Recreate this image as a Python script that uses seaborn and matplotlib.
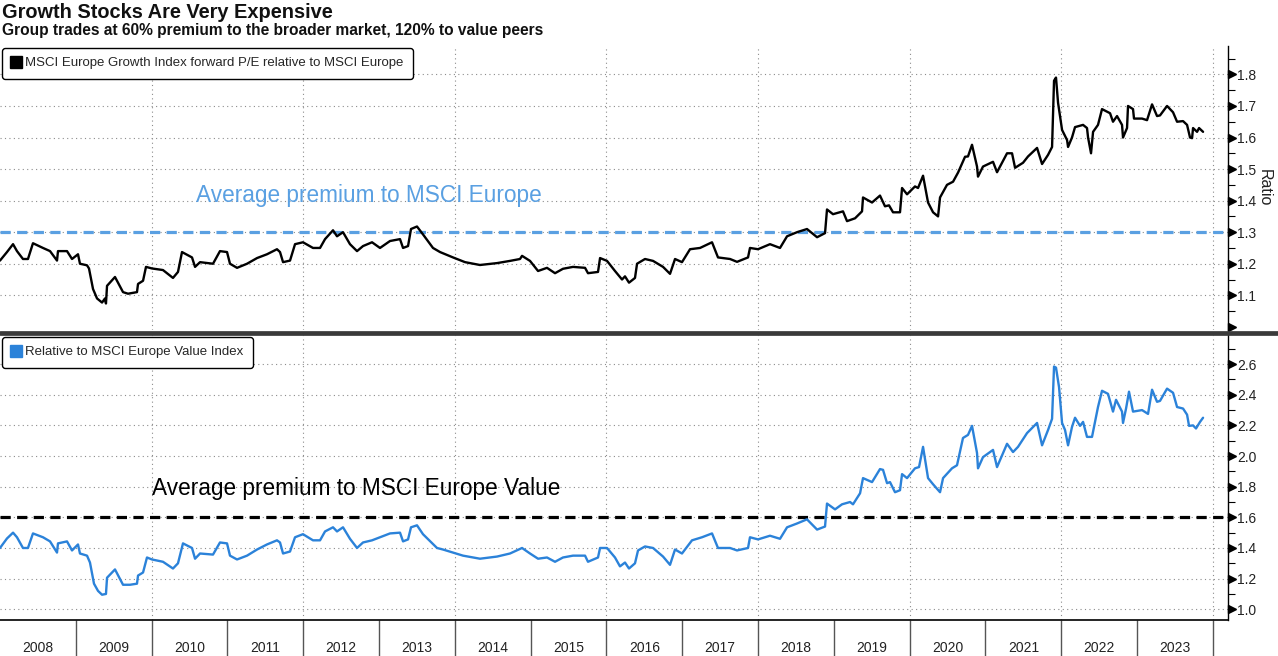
import numpy as np
import pandas as pd
import matplotlib
matplotlib.use("Agg")
import matplotlib.pyplot as plt
import matplotlib.transforms as mtransforms
from matplotlib.lines import Line2D
from matplotlib.ticker import MultipleLocator
import seaborn as sns

# ---------------- data ----------------
title = "Growth Stocks Are Very Expensive"
subtitle = "Group trades at 60% premium to the broader market, 120% to value peers"
growth_label = "MSCI Europe Growth Index forward P/E relative to MSCI Europe"
value_label = "Relative to MSCI Europe Value Index"
avg_market_text = "Average premium to MSCI Europe"
avg_value_text = "Average premium to MSCI Europe Value"
avg_market = 1.3
avg_value = 1.6

years = list(range(2008, 2024))
grid_years = [2010, 2012, 2014, 2016, 2018, 2020, 2022, 2024]
top_ticks = [1.0, 1.1, 1.2, 1.3, 1.4, 1.5, 1.6, 1.7, 1.8]
bottom_ticks = [1.0, 1.2, 1.4, 1.6, 1.8, 2.0, 2.2, 2.4, 2.6]

growth_dates = [
    2008.000, 2008.092, 2008.172, 2008.224, 2008.303, 2008.369, 2008.435, 2008.567, 2008.660, 2008.752,
    2008.765, 2008.884, 2008.950, 2009.029, 2009.055, 2009.148, 2009.174, 2009.227, 2009.280, 2009.346,
    2009.385, 2009.398, 2009.412, 2009.517, 2009.623, 2009.689, 2009.807, 2009.821, 2009.887, 2009.926,
    2010.005, 2010.150, 2010.282, 2010.348, 2010.401, 2010.533, 2010.573, 2010.639, 2010.810, 2010.902,
    2010.995, 2011.034, 2011.127, 2011.259, 2011.391, 2011.522, 2011.654, 2011.694, 2011.734, 2011.826,
    2011.892, 2011.997, 2012.129, 2012.222, 2012.288, 2012.393, 2012.446, 2012.525, 2012.617, 2012.710,
    2012.789, 2012.908, 2013.013, 2013.145, 2013.277, 2013.317, 2013.383, 2013.422, 2013.501, 2013.580,
    2013.712, 2013.805, 2013.976, 2014.135, 2014.332, 2014.557, 2014.728, 2014.860, 2014.887, 2014.992,
    2015.098, 2015.216, 2015.322, 2015.427, 2015.559, 2015.718, 2015.757, 2015.889, 2015.916, 2016.008,
    2016.113, 2016.206, 2016.245, 2016.298, 2016.377, 2016.404, 2016.509, 2016.615, 2016.747, 2016.839,
    2016.905, 2016.997, 2017.103, 2017.235, 2017.393, 2017.472, 2017.631, 2017.723, 2017.868, 2017.894,
    2018.000, 2018.158, 2018.290, 2018.383, 2018.515, 2018.646, 2018.779, 2018.884, 2018.910, 2018.989,
    2019.121, 2019.174, 2019.280, 2019.372, 2019.385, 2019.504, 2019.609, 2019.675, 2019.728, 2019.781,
    2019.873, 2019.900, 2019.966, 2020.071, 2020.111, 2020.177, 2020.243, 2020.309, 2020.375, 2020.401,
    2020.493, 2020.573, 2020.639, 2020.731, 2020.770, 2020.823, 2020.889, 2020.902, 2020.968, 2021.100,
    2021.153, 2021.285, 2021.351, 2021.391, 2021.496, 2021.562, 2021.681, 2021.747, 2021.826, 2021.879,
    2021.905, 2021.931, 2021.958, 2022.011, 2022.077, 2022.090, 2022.142, 2022.182, 2022.288, 2022.340,
    2022.354, 2022.393, 2022.420, 2022.485, 2022.538, 2022.644, 2022.683, 2022.736, 2022.802, 2022.815,
    2022.868, 2022.881, 2022.947, 2022.960, 2023.066, 2023.132, 2023.198, 2023.264, 2023.303, 2023.396,
    2023.475, 2023.528, 2023.607, 2023.660, 2023.699, 2023.726, 2023.739, 2023.792, 2023.818, 2023.871,
]
growth_ratio = [
    1.210, 1.237, 1.262, 1.240, 1.215, 1.215, 1.265, 1.250, 1.240, 1.210,
    1.240, 1.240, 1.215, 1.230, 1.200, 1.195, 1.185, 1.120, 1.090, 1.077,
    1.090, 1.074, 1.130, 1.158, 1.110, 1.105, 1.110, 1.136, 1.146, 1.190,
    1.185, 1.180, 1.155, 1.174, 1.237, 1.220, 1.190, 1.205, 1.200, 1.240,
    1.237, 1.200, 1.187, 1.200, 1.218, 1.230, 1.246, 1.237, 1.205, 1.210,
    1.262, 1.268, 1.250, 1.250, 1.278, 1.306, 1.287, 1.300, 1.262, 1.240,
    1.256, 1.268, 1.250, 1.272, 1.278, 1.250, 1.256, 1.310, 1.318, 1.293,
    1.250, 1.237, 1.220, 1.205, 1.196, 1.202, 1.209, 1.215, 1.225, 1.209,
    1.177, 1.187, 1.170, 1.184, 1.190, 1.187, 1.170, 1.174, 1.218, 1.209,
    1.177, 1.150, 1.160, 1.140, 1.155, 1.200, 1.215, 1.209, 1.190, 1.168,
    1.215, 1.205, 1.246, 1.250, 1.268, 1.220, 1.215, 1.206, 1.220, 1.250,
    1.246, 1.262, 1.250, 1.287, 1.300, 1.310, 1.284, 1.297, 1.372, 1.357,
    1.366, 1.335, 1.344, 1.366, 1.410, 1.394, 1.416, 1.382, 1.385, 1.363,
    1.363, 1.440, 1.420, 1.445, 1.440, 1.479, 1.394, 1.363, 1.350, 1.410,
    1.450, 1.460, 1.489, 1.539, 1.540, 1.577, 1.508, 1.476, 1.508, 1.523,
    1.490, 1.550, 1.550, 1.504, 1.520, 1.540, 1.567, 1.516, 1.545, 1.570,
    1.780, 1.790, 1.710, 1.624, 1.592, 1.570, 1.600, 1.633, 1.640, 1.630,
    1.600, 1.550, 1.618, 1.640, 1.690, 1.677, 1.650, 1.668, 1.640, 1.600,
    1.630, 1.700, 1.690, 1.660, 1.660, 1.655, 1.705, 1.668, 1.670, 1.700,
    1.680, 1.650, 1.652, 1.640, 1.600, 1.598, 1.630, 1.618, 1.630, 1.618,
]

value_dates = [
    2008.000, 2008.092, 2008.172, 2008.224, 2008.303, 2008.369, 2008.435, 2008.567, 2008.660, 2008.752,
    2008.765, 2008.884, 2008.950, 2009.029, 2009.055, 2009.148, 2009.187, 2009.240, 2009.293, 2009.346,
    2009.398, 2009.412, 2009.517, 2009.623, 2009.715, 2009.807, 2009.821, 2009.887, 2009.939, 2010.005,
    2010.150, 2010.282, 2010.348, 2010.414, 2010.533, 2010.573, 2010.639, 2010.810, 2010.902, 2010.995,
    2011.034, 2011.127, 2011.259, 2011.391, 2011.522, 2011.654, 2011.694, 2011.734, 2011.826, 2011.892,
    2011.997, 2012.129, 2012.222, 2012.288, 2012.393, 2012.446, 2012.525, 2012.617, 2012.710, 2012.789,
    2012.908, 2013.013, 2013.145, 2013.277, 2013.317, 2013.383, 2013.422, 2013.501, 2013.580, 2013.765,
    2013.844, 2013.976, 2014.108, 2014.332, 2014.557, 2014.728, 2014.887, 2014.992, 2015.098, 2015.216,
    2015.322, 2015.427, 2015.559, 2015.718, 2015.757, 2015.889, 2015.916, 2016.008, 2016.113, 2016.179,
    2016.245, 2016.298, 2016.377, 2016.417, 2016.509, 2016.615, 2016.747, 2016.839, 2016.905, 2016.997,
    2017.129, 2017.261, 2017.393, 2017.472, 2017.631, 2017.723, 2017.868, 2017.894, 2018.000, 2018.158,
    2018.290, 2018.383, 2018.515, 2018.646, 2018.779, 2018.884, 2018.910, 2019.016, 2019.108, 2019.214,
    2019.253, 2019.346, 2019.385, 2019.504, 2019.609, 2019.649, 2019.702, 2019.741, 2019.807, 2019.873,
    2019.900, 2019.966, 2020.071, 2020.124, 2020.177, 2020.243, 2020.309, 2020.401, 2020.441, 2020.559,
    2020.625, 2020.704, 2020.770, 2020.823, 2020.889, 2020.902, 2020.968, 2021.100, 2021.153, 2021.285,
    2021.364, 2021.430, 2021.549, 2021.681, 2021.747, 2021.826, 2021.879, 2021.905, 2021.931, 2021.971,
    2022.011, 2022.050, 2022.090, 2022.142, 2022.182, 2022.248, 2022.288, 2022.340, 2022.406, 2022.446,
    2022.485, 2022.538, 2022.617, 2022.683, 2022.723, 2022.802, 2022.815, 2022.855, 2022.894, 2022.947,
    2023.066, 2023.145, 2023.198, 2023.264, 2023.303, 2023.396, 2023.475, 2023.528, 2023.607, 2023.660,
    2023.686, 2023.739, 2023.778, 2023.831, 2023.871,
]
value_ratio = [
    1.400, 1.462, 1.500, 1.470, 1.400, 1.400, 1.495, 1.470, 1.443, 1.370,
    1.430, 1.443, 1.384, 1.423, 1.364, 1.350, 1.305, 1.167, 1.120, 1.095,
    1.100, 1.206, 1.260, 1.160, 1.160, 1.167, 1.220, 1.240, 1.338, 1.325,
    1.310, 1.266, 1.300, 1.430, 1.400, 1.330, 1.364, 1.357, 1.436, 1.430,
    1.350, 1.325, 1.350, 1.390, 1.423, 1.450, 1.436, 1.364, 1.377, 1.470,
    1.490, 1.450, 1.450, 1.508, 1.535, 1.508, 1.535, 1.460, 1.400, 1.436,
    1.450, 1.470, 1.495, 1.500, 1.443, 1.456, 1.535, 1.548, 1.490, 1.400,
    1.390, 1.370, 1.350, 1.330, 1.344, 1.364, 1.400, 1.364, 1.330, 1.338,
    1.310, 1.338, 1.350, 1.350, 1.310, 1.338, 1.400, 1.400, 1.338, 1.280,
    1.305, 1.266, 1.300, 1.384, 1.410, 1.400, 1.344, 1.290, 1.390, 1.364,
    1.450, 1.470, 1.495, 1.400, 1.400, 1.384, 1.400, 1.470, 1.456, 1.480,
    1.460, 1.535, 1.560, 1.587, 1.520, 1.540, 1.690, 1.652, 1.685, 1.700,
    1.685, 1.757, 1.856, 1.830, 1.915, 1.910, 1.823, 1.830, 1.764, 1.777,
    1.882, 1.856, 1.920, 1.928, 2.060, 1.856, 1.816, 1.764, 1.856, 1.920,
    1.940, 2.118, 2.138, 2.197, 2.020, 1.920, 1.993, 2.040, 1.928, 2.080,
    2.026, 2.060, 2.150, 2.216, 2.070, 2.170, 2.243, 2.584, 2.577, 2.450,
    2.216, 2.170, 2.070, 2.190, 2.250, 2.197, 2.223, 2.125, 2.125, 2.223,
    2.320, 2.426, 2.406, 2.290, 2.367, 2.290, 2.216, 2.310, 2.420, 2.290,
    2.300, 2.275, 2.433, 2.354, 2.360, 2.440, 2.413, 2.320, 2.310, 2.270,
    2.197, 2.200, 2.180, 2.223, 2.250,
]

# ---------------- styling ----------------
sns.set_theme(style="white")
plt.rcParams["font.family"] = ["Liberation Sans", "DejaVu Sans"]

BLACK = "#000000"
BLUE = "#2b82d9"
LIGHT_BLUE = "#5aa0e2"
GRID = "#8c8c8c"
W, H = 1278, 656

fig = plt.figure(figsize=(W / 100, H / 100), dpi=100)


def rect(l, t, r, b):
    return [l / W, 1 - b / H, (r - l) / W, (b - t) / H]


ax1 = fig.add_axes(rect(0, 46, 1228, 330))
ax2 = fig.add_axes(rect(0, 335, 1228, 620))

df_g = pd.DataFrame({"date": growth_dates, "ratio": growth_ratio})
df_v = pd.DataFrame({"date": value_dates, "ratio": value_ratio})
sns.lineplot(data=df_g, x="date", y="ratio", ax=ax1, color=BLACK, lw=1.7, zorder=4)
sns.lineplot(data=df_v, x="date", y="ratio", ax=ax2, color=BLUE, lw=1.7, zorder=4)

ax1.axhline(avg_market, color=LIGHT_BLUE, lw=2.3, dashes=(3.2, 2.0), zorder=3)
ax2.axhline(avg_value, color=BLACK, lw=2.3, dashes=(3.2, 2.0), zorder=3)

ax1.text(2010.59, 1.416, avg_market_text, color=LIGHT_BLUE, fontsize=16.3,
         ha="left", va="center")
ax2.text(2010.0, 1.79, avg_value_text, color=BLACK, fontsize=16.3,
         ha="left", va="center")

grid_kw = dict(color=GRID, lw=0.8, ls=(0, (1, 3)), zorder=1)

for ax, ticks, ylim, minor in ((ax1, top_ticks, (0.99, 1.89), 0.05),
                               (ax2, bottom_ticks, (0.93, 2.79), 0.1)):
    ax.set_xlim(2008.0, 2024.2)
    ax.set_ylim(*ylim)
    ax.set_xlabel("")
    ax.set_ylabel("")
    for s in ("top", "left"):
        ax.spines[s].set_visible(False)
    ax.spines["right"].set_color(BLACK)
    ax.spines["right"].set_linewidth(1.0)
    ax.yaxis.tick_right()
    ax.set_yticks(ticks)
    ax.yaxis.set_minor_locator(MultipleLocator(minor))
    ax.tick_params(axis="y", which="major", length=0, pad=6.5, labelsize=10,
                   labelcolor="#222222", right=True, left=False)
    ax.tick_params(axis="y", which="minor", length=5, width=0.8, color=BLACK,
                   direction="out", right=True, left=False)
    ax.grid(True, axis="y", which="major", **grid_kw)
    for gy in grid_years:
        ax.axvline(gy, **grid_kw)
    # arrow-shaped major ticks
    trans = mtransforms.offset_copy(ax.get_yaxis_transform(), fig=fig, x=4, y=0, units="dots")
    ax.plot(np.ones(len(ticks)), ticks, ls="none", marker=">", ms=6, color=BLACK,
            transform=trans, clip_on=False, zorder=6)

ax1.set_yticklabels([""] + [f"{t:.1f}" for t in top_ticks[1:]])
ax1.yaxis.get_major_ticks()[0].gridline.set_visible(False)
ax2.set_yticklabels([f"{t:.1f}" for t in bottom_ticks])

ax1.spines["bottom"].set_visible(False)
ax1.set_xticks([])

ax1.set_ylabel("Ratio", rotation=270, fontsize=11.5, color="#222222")
ax1.yaxis.set_label_position("right")
ax1.yaxis.set_label_coords(1.0295, 0.5)
ax1.yaxis.label.set_va("center")
ax1.yaxis.label.set_ha("center")

ax2.spines["bottom"].set_color(BLACK)
ax2.spines["bottom"].set_linewidth(1.2)
ax2.set_xticks([y + 1 for y in years])
ax2.set_xticklabels([])
ax2.set_xticks([y + 0.5 for y in years], minor=True)
ax2.set_xticklabels([str(y) for y in years], minor=True)
ax2.tick_params(axis="x", which="major", length=27, width=1, color="#555555",
                direction="out", bottom=True)
ax2.tick_params(axis="x", which="minor", length=0, pad=15, labelsize=10,
                labelcolor="#222222", bottom=True)

# legends
for ax, col, lab in ((ax1, BLACK, growth_label), (ax2, BLUE, value_label)):
    h = Line2D([], [], marker="s", color=col, ls="none", markersize=9)
    leg = ax.legend([h], [lab], loc="upper left", bbox_to_anchor=(0.0, 1.0),
                    frameon=True, fancybox=True, edgecolor=BLACK, facecolor="white",
                    framealpha=1, fontsize=9.5, handlelength=0.7, handletextpad=0.35,
                    borderpad=0.7, borderaxespad=0.15)
    leg.get_frame().set_linewidth(1.0)
    leg.set_zorder(10)

# divider between the panels
ydiv = 1 - 332.5 / H
fig.add_artist(Line2D([0, 1], [ydiv, ydiv], transform=fig.transFigure,
                      color="#3a3a3a", lw=3.4))

fig.text(2 / W, 1 - 12.5 / H, title, fontsize=14.4, fontweight="bold",
         ha="left", va="center", color="#111111")
fig.text(2 / W, 1 - 31 / H, subtitle, fontsize=11.2, fontweight="bold",
         ha="left", va="center", color="#111111")

fig.savefig("out.png", dpi=100)
